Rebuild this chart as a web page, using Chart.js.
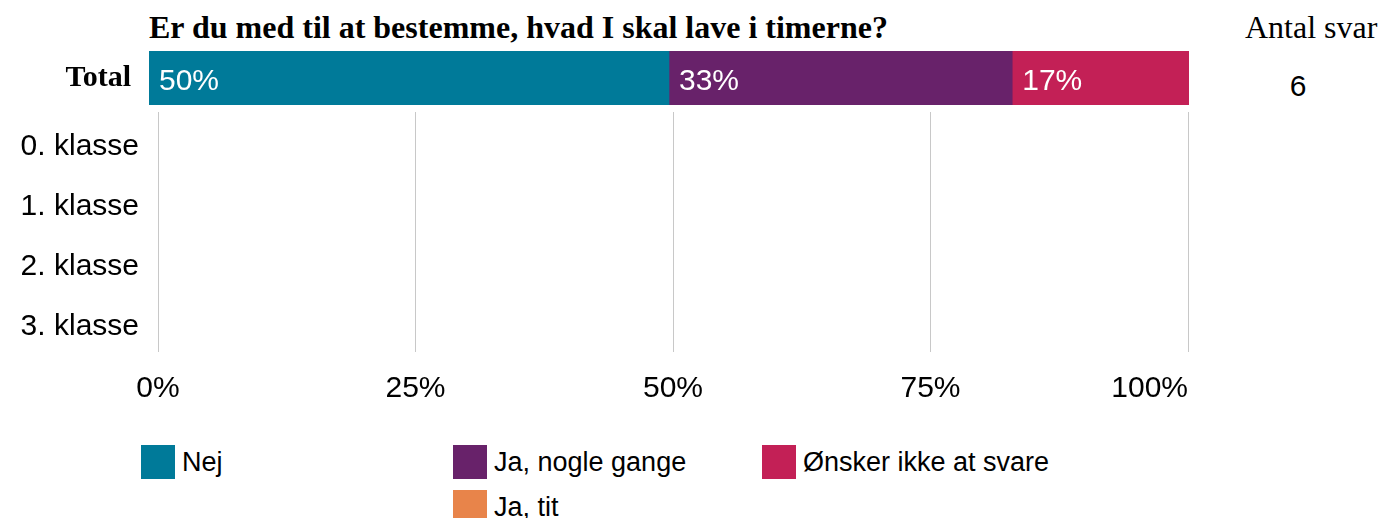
<!DOCTYPE html>
<html>
<head>
<meta charset="utf-8">
<script src="https://cdn.jsdelivr.net/npm/chart.js@4.4.1/dist/chart.umd.min.js"></script>
<style>
  html, body { margin: 0; padding: 0; background: #fff; }
  #wrap { position: relative; width: 1380px; height: 518px; overflow: hidden; font-family: "Liberation Sans", Arial, sans-serif; color: #000; }
  .title { position: absolute; left: 149px; top: 11px; font: bold 32px/32px "Liberation Serif", "Times New Roman", serif; white-space: nowrap; }
  .antal { position: absolute; left: 1245px; top: 11px; font: 32px/32px "Liberation Serif", "Times New Roman", serif; white-space: nowrap; }
  .count { position: absolute; left: 1268px; width: 60px; top: 71px; text-align: center; font: 30px/30px "Liberation Sans", Arial, sans-serif; }
  #topChart { position: absolute; left: 0; top: 51px; }
  #gridChart { position: absolute; left: 0; top: 112px; }
  .item { position: absolute; display: flex; align-items: center; font: 27px "Liberation Sans", Arial, sans-serif; white-space: nowrap; }
  .sw { width: 34px; height: 34px; margin-right: 7px; }
</style>
</head>
<body>
<div id="wrap">
  <div class="title" id="title"></div>
  <div class="antal">Antal svar</div>
  <div class="count" id="count"></div>
  <canvas id="topChart" width="1380" height="54"></canvas>
  <canvas id="gridChart" width="1380" height="300"></canvas>
  <div id="legend"></div>
</div>
<script>
const title = 'Er du med til at bestemme, hvad I skal lave i timerne?';
const totalCategory = ['Total'];
const classes = ['0. klasse', '1. klasse', '2. klasse', '3. klasse'];
const seriesNames = ['Nej', 'Ja, nogle gange', 'Ønsker ikke at svare', 'Ja, tit'];
const totalValues = [50, 33, 17, 0];
// no answers shown per class
const nejByClass = [null, null, null, null];
const nogleByClass = [null, null, null, null];
const ikkeSvareByClass = [null, null, null, null];
const titByClass = [null, null, null, null];
const answerCounts = [6];
const xTicks = [0, 25, 50, 75, 100];

const colors = ['#007A99', '#68226A', '#C32056', '#E8844A'];
const classSeries = [nejByClass, nogleByClass, ikkeSvareByClass, titByClass];
const legendPos = [[141, 445], [453, 445], [762, 445], [453, 490]];

document.getElementById('title').textContent = title;
document.getElementById('count').textContent = answerCounts[0];

// fixed axis width, and no extra top/bottom padding from the y labels
const fixWidth = w => s => { s.width = w; s.paddingTop = 0; s.paddingBottom = 0; };

const barLabels = {
  id: 'barLabels',
  afterDatasetsDraw(chart) {
    const ctx = chart.ctx;
    ctx.save();
    ctx.font = '30px "Liberation Sans", Arial, sans-serif';
    ctx.fillStyle = '#fff';
    ctx.textBaseline = 'middle';
    ctx.textAlign = 'left';
    chart.data.datasets.forEach((ds, i) => {
      chart.getDatasetMeta(i).data.forEach((bar, j) => {
        const v = ds.data[j];
        if (!v) return;
        ctx.fillText(v + '%', Math.min(bar.x, bar.base) + 10, bar.y + 4);
      });
    });
    ctx.restore();
  }
};

const xTickLabels = {
  id: 'xTickLabels',
  afterDraw(chart) {
    const sc = chart.scales.x, ctx = chart.ctx;
    ctx.save();
    ctx.font = '30px "Liberation Sans", Arial, sans-serif';
    ctx.fillStyle = '#000';
    ctx.textBaseline = 'middle';
    sc.ticks.forEach((t, i) => {
      ctx.textAlign = i === sc.ticks.length - 1 ? 'right' : 'center';
      ctx.fillText(t.value + '%', sc.getPixelForValue(t.value), chart.chartArea.bottom + 37);
    });
    ctx.restore();
  }
};

new Chart(document.getElementById('topChart'), {
  type: 'bar',
  data: {
    labels: totalCategory,
    datasets: seriesNames.map((name, i) => ({
      label: name,
      data: [totalValues[i]],
      backgroundColor: colors[i],
      borderWidth: 0,
      barPercentage: 1,
      categoryPercentage: 1
    }))
  },
  options: {
    indexAxis: 'y',
    responsive: false,
    animation: false,
    layout: { padding: { left: 0, right: 191, top: 0, bottom: 0 } },
    plugins: { legend: { display: false }, tooltip: { enabled: false } },
    scales: {
      x: { stacked: true, min: 0, max: 100, display: false },
      y: {
        stacked: true,
        grid: { display: false, drawTicks: false },
        border: { display: false },
        ticks: { padding: 18, color: '#000', font: { family: '"Liberation Serif", "Times New Roman", serif', size: 30, weight: 'bold' } },
        afterFit: fixWidth(149)
      }
    }
  },
  plugins: [barLabels]
});

new Chart(document.getElementById('gridChart'), {
  type: 'bar',
  data: {
    labels: classes,
    datasets: seriesNames.map((name, i) => ({
      label: name,
      data: classSeries[i],
      backgroundColor: colors[i],
      borderWidth: 0
    }))
  },
  options: {
    indexAxis: 'y',
    responsive: false,
    animation: false,
    layout: { padding: { left: 0, right: 192, top: 0, bottom: 60 } },
    plugins: { legend: { display: false }, tooltip: { enabled: false } },
    scales: {
      x: {
        stacked: true, min: 0, max: 100,
        afterBuildTicks: s => { s.ticks = xTicks.map(v => ({ value: v })); },
        grid: { color: '#c8c8c8', lineWidth: 1, drawTicks: false },
        border: { display: false },
        ticks: { display: false },
        afterFit: s => { s.height = 0; }
      },
      y: {
        stacked: true,
        grid: { display: false, drawTicks: false },
        border: { display: false },
        ticks: { padding: 19, labelOffset: 5, color: '#000', font: { family: '"Liberation Sans", Arial, sans-serif', size: 30 } },
        afterFit: fixWidth(158)
      }
    }
  },
  plugins: [xTickLabels]
});

const legend = document.getElementById('legend');
seriesNames.forEach((name, i) => {
  const item = document.createElement('div');
  item.className = 'item';
  item.style.left = legendPos[i][0] + 'px';
  item.style.top = legendPos[i][1] + 'px';
  const sw = document.createElement('span');
  sw.className = 'sw';
  sw.style.background = colors[i];
  item.appendChild(sw);
  item.appendChild(document.createTextNode(name));
  legend.appendChild(item);
});
</script>
</body>
</html>
